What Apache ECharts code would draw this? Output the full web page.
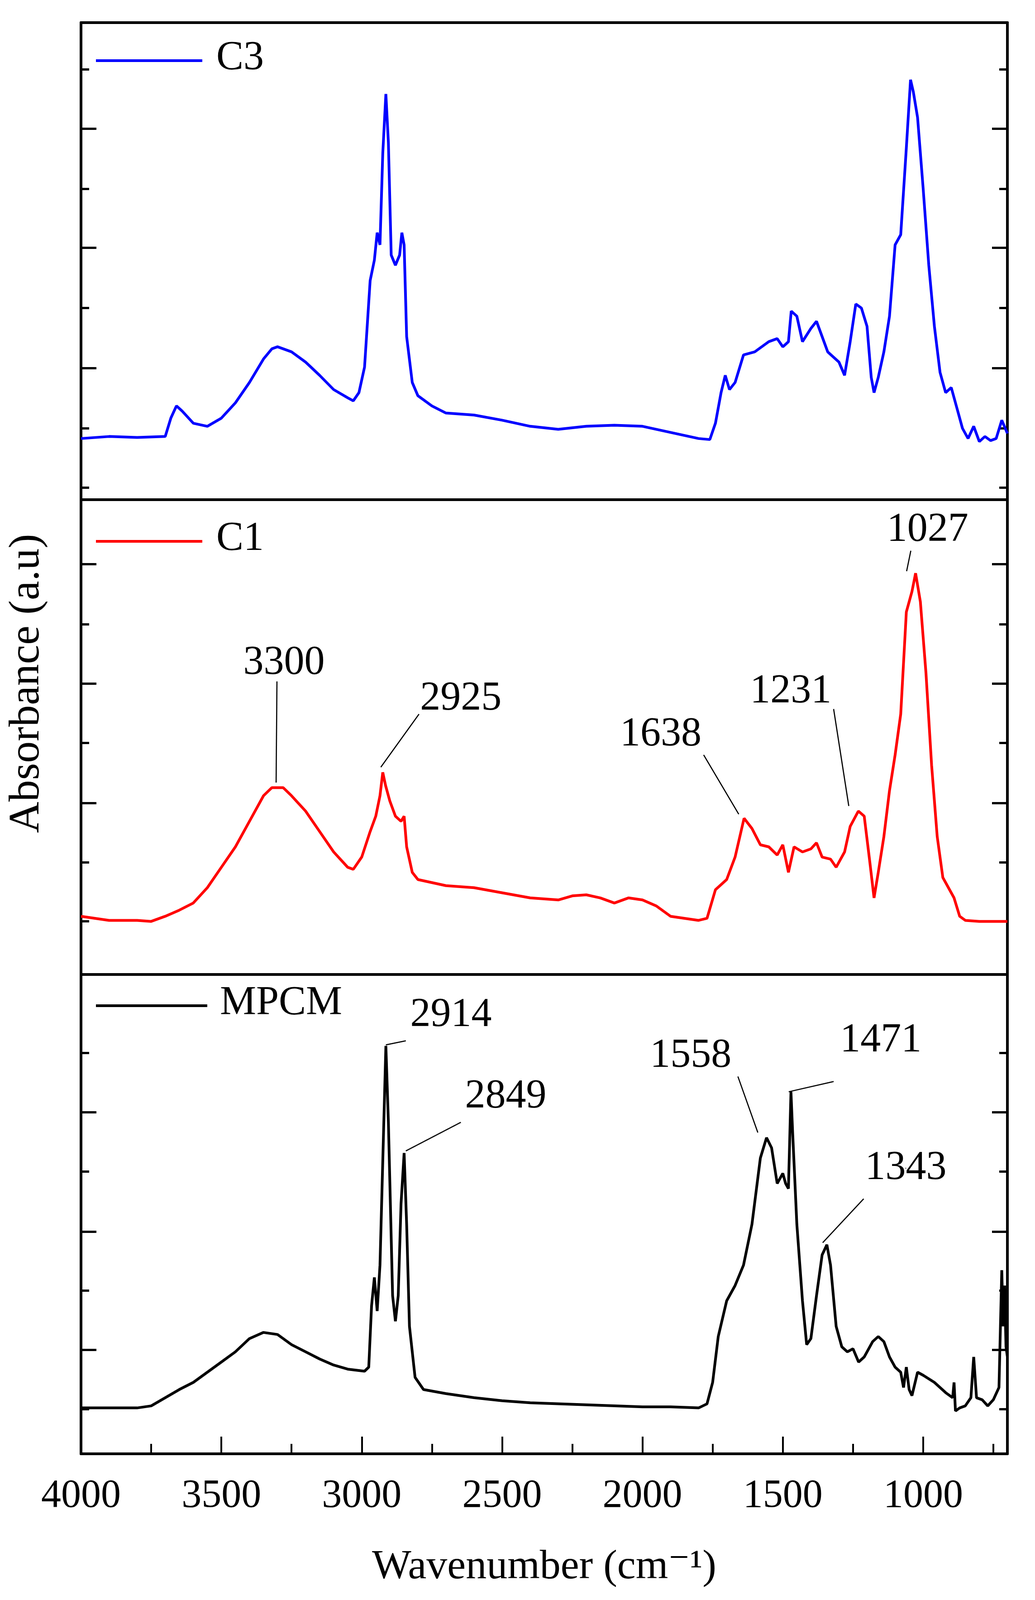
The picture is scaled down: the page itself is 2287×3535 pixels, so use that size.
<!DOCTYPE html>
<html><head><meta charset="utf-8">
<script src="https://cdn.jsdelivr.net/npm/echarts@6/dist/echarts.min.js"></script>
<style>html,body{margin:0;background:#fff}#c{width:2287px;height:3535px}</style>
</head><body><div id="c"></div>
<script>
// values: [wavenumber, height above panel bottom (a.u.)]
const C3 = [[4000,60],[3900,62],[3800,61],[3700,62],[3680,80],[3660,92],[3640,87],[3600,75],[3550,72],[3500,80],[3450,95],[3400,115],[3350,138],[3320,148],[3300,150],[3250,145],[3200,135],[3150,122],[3100,108],[3050,100],[3030,97],[3010,105],[2990,130],[2970,215],[2955,235],[2945,262],[2935,250],[2925,340],[2914,398],[2905,350],[2895,240],[2880,230],[2865,240],[2857,262],[2849,250],[2840,160],[2820,115],[2800,102],[2750,92],[2700,85],[2600,83],[2500,78],[2400,72],[2300,69],[2200,72],[2100,73],[2000,72],[1900,66],[1800,60],[1760,59],[1740,75],[1720,105],[1705,122],[1690,108],[1670,115],[1640,142],[1600,145],[1550,155],[1520,158],[1500,150],[1480,155],[1470,185],[1450,180],[1430,155],[1400,168],[1380,175],[1360,160],[1340,145],[1300,135],[1280,122],[1260,155],[1240,192],[1220,188],[1200,170],[1185,120],[1175,105],[1160,120],[1140,145],[1120,180],[1100,250],[1080,260],[1060,345],[1045,412],[1035,400],[1020,375],[1000,305],[980,230],[960,170],[940,125],[920,105],[900,110],[880,90],[860,70],[840,60],[820,72],[800,57],[780,62],[760,58],[740,60],[720,78],[700,65]];
const C1 = [[4000,57],[3950,55],[3900,53],[3800,53],[3750,52],[3700,57],[3650,63],[3600,70],[3550,85],[3500,105],[3450,125],[3400,150],[3350,175],[3320,183],[3280,183],[3250,175],[3200,160],[3150,140],[3100,120],[3050,105],[3030,103],[3000,115],[2970,140],[2950,155],[2935,175],[2925,198],[2915,185],[2900,170],[2880,155],[2860,150],[2849,155],[2840,125],[2820,100],[2800,93],[2700,87],[2600,85],[2500,80],[2400,75],[2300,73],[2250,77],[2200,78],[2150,75],[2100,70],[2050,75],[2000,73],[1950,67],[1900,57],[1800,53],[1770,55],[1740,83],[1700,93],[1670,115],[1638,153],[1610,143],[1580,127],[1550,125],[1520,117],[1500,127],[1480,100],[1460,125],[1430,120],[1400,123],[1380,129],[1360,115],[1330,113],[1310,105],[1280,120],[1260,145],[1231,160],[1210,155],[1190,110],[1175,75],[1160,100],[1140,135],[1120,180],[1100,215],[1080,255],[1060,355],[1040,375],[1027,393],[1010,365],[990,295],[970,205],[950,135],[930,95],[910,85],[890,75],[870,57],[850,53],[800,52],[700,52]];
const MPCM = [[4000,45],[3800,45],[3750,47],[3700,55],[3650,63],[3600,70],[3550,80],[3500,90],[3450,100],[3400,113],[3350,119],[3300,117],[3250,107],[3200,100],[3150,93],[3100,87],[3050,83],[2990,81],[2975,85],[2965,145],[2955,173],[2945,140],[2935,185],[2914,400],[2905,325],[2890,155],[2880,130],[2870,155],[2860,245],[2849,295],[2840,225],[2830,125],[2810,75],[2780,63],[2700,59],[2600,55],[2500,52],[2400,50],[2300,49],[2200,48],[2000,46],[1900,46],[1800,45],[1770,49],[1750,70],[1730,115],[1700,150],[1670,165],[1640,185],[1610,225],[1580,290],[1558,310],[1540,300],[1520,265],[1500,275],[1490,265],[1480,260],[1471,355],[1465,315],[1450,225],[1430,150],[1415,107],[1400,113],[1380,155],[1360,195],[1343,205],[1330,185],[1310,125],[1290,105],[1270,100],[1250,103],[1230,90],[1210,95],[1180,110],[1160,115],[1140,110],[1120,95],[1100,85],[1080,80],[1070,65],[1060,85],[1050,63],[1040,57],[1020,80],[1000,77],[960,70],[920,60],[895,55],[890,70],[885,42],[870,45],[850,47],[830,55],[820,95],[810,55],[790,53],[770,47],[750,53],[730,65],[720,180],[715,125],[710,165],[705,105],[700,95]];
const seriesNames = ['C3','C1','MPCM'];
const panelMax = [468, 465, 470];
const yMajor = [[129,247,364],[168,285,402],[102,218,335]];
const yMinor = [[12,70,188,305,422],[52,110,227,343],[44,160,277,393]];
const xTicks = [4000,3500,3000,2500,2000,1500,1000];
const xMinorTicks = [3750,3250,2750,2250,1750,1250,750];
// peak labels: [panel, text, textX, textY, lineX1, lineY1, lineX2, lineY2]
const peaks = [
 [1,'3300',3277,305,3302,287,3305,188],
 [1,'2925',2647,270,2796,255,2932,203],
 [1,'1638',1935,235,1782,215,1657,157],
 [1,'1231',1472,277,1319,260,1265,165],
 [1,'1027',984,435,1044,415,1059,395],
 [2,'2914',2682,430,2843,405,2914,401],
 [2,'2849',2487,350,2647,325,2843,297],
 [2,'1558',1828,390,1660,370,1589,315],
 [2,'1471',1151,405,1319,365,1479,355],
 [2,'1343',1062,280,1212,250,1358,207]
];
const colors = ['#0000ff','#ff0000','#000000'];
const datas = [C3, C1, MPCM];

const FONT = '"Liberation Serif", "Times New Roman", "DejaVu Serif", serif';
const tops = [50, 1104, 2153], heights = [1054, 1049, 1059];
const grids = [], xAxes = [], yAxes = [], series = [];
for (let i = 0; i < 3; i++) {
  grids.push({left: 179, right: 61, top: tops[i], height: heights[i]});
  const last = i === 2;
  xAxes.push({type:'value', gridIndex:i, min:700, max:4000, inverse:true, position:'bottom',
    axisLine:{show:true, onZero:false, lineStyle:{color:'#000', width:6}},
    axisTick:{show:last, inside:true, length:38, lineStyle:{width:4,color:'#000'}, customValues: xTicks},
    axisLabel:{show:last, fontFamily:FONT, fontSize:88, color:'#000', margin:50, customValues: xTicks, formatter: v => String(v)},
    splitLine:{show:false},
    name: last ? 'Wavenumber (cm\u207B\u00B9)' : '', nameLocation:'middle', nameGap:205,
    nameTextStyle:{fontFamily:FONT, fontSize:92, color:'#000'}});
  xAxes.push({type:'value', gridIndex:i, min:700, max:4000, inverse:true, position:'bottom',
    axisLine:{show:false}, axisLabel:{show:false}, splitLine:{show:false},
    axisTick:{show:last, inside:true, length:22, lineStyle:{width:4,color:'#000'}, customValues:xMinorTicks}});
  xAxes.push({type:'value', gridIndex:i, min:700, max:4000, inverse:true, position:'top',
    axisLine:{show:true, onZero:false, lineStyle:{color:'#000', width:6}}, axisTick:{show:false}, axisLabel:{show:false}, splitLine:{show:false}});
  for (const pos of ['left','right']) {
    yAxes.push({type:'value', gridIndex:i, min:0, max:panelMax[i], position:pos,
      axisLine:{show:true, onZero:false, lineStyle:{color:'#000', width:6}},
      axisTick:{show:true, inside:true, length:34, lineStyle:{width:5,color:'#000'}, customValues:yMajor[i]},
      axisLabel:{show:false}, splitLine:{show:false}});
    yAxes.push({type:'value', gridIndex:i, min:0, max:panelMax[i], position:pos,
      axisLine:{show:false}, axisLabel:{show:false}, splitLine:{show:false},
      axisTick:{show:true, inside:true, length:18, lineStyle:{width:5,color:'#000'}, customValues:yMinor[i]}});
  }
  series.push({type:'line', name:seriesNames[i], xAxisIndex:i*3, yAxisIndex:i*4, data:datas[i], showSymbol:false,
    lineStyle:{color:colors[i], width:6}, animation:false, z:3});
}
peaks.forEach(p => {
  const g = p[0];
  series.push({type:'line', xAxisIndex:g*3, yAxisIndex:g*4, data:[[p[4],p[5]],[p[6],p[7]]], showSymbol:false,
    lineStyle:{color:'#000', width:2.5}, animation:false, silent:true});
  series.push({type:'scatter', xAxisIndex:g*3, yAxisIndex:g*4, data:[[p[2],p[3]]], symbolSize:0, animation:false,
    itemStyle:{opacity:1, color:'#000'},
    label:{show:true, formatter:p[1], position:'inside', fontFamily:FONT, fontSize:90, color:'#000', opacity:1, textBorderWidth:0}});
});
const legY = [134, 1196, 2222], legTextX = [478, 478, 486], legLineEnd = [447, 447, 458];
const graphic = [];
for (let i = 0; i < 3; i++) {
  graphic.push({type:'line', shape:{x1:212, y1:legY[i], x2:legLineEnd[i], y2:legY[i]}, style:{stroke:colors[i], lineWidth:6}});
  graphic.push({type:'text', left:legTextX[i], top:legY[i]-50, style:{text:seriesNames[i], fontFamily:FONT, fontSize:90, fill:'#000'}});
}
graphic.push({type:'text', rotation:Math.PI/2, x:60, y:1510, style:{text:'Absorbance (a.u)', fontFamily:FONT, fontSize:96, fill:'#000', textAlign:'center', textVerticalAlign:'middle'}});
const chart = echarts.init(document.getElementById('c'));
chart.setOption({animation:false, backgroundColor:'#fff', grid:grids, xAxis:xAxes, yAxis:yAxes, series, graphic});
</script></body></html>
